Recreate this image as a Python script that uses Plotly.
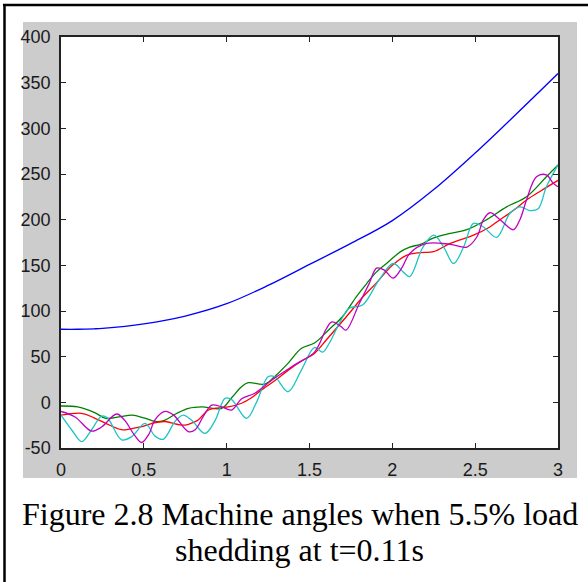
import plotly.graph_objects as go

# ---- data ----
t_blue = [0, 0.1, 0.2, 0.25, 0.5, 0.75, 1.0, 1.25, 1.5, 1.75, 2.0, 2.25, 2.5, 2.75, 3.0]
blue = [80, 80, 80.5, 81, 86, 94.5, 108, 128, 151, 174, 199, 233, 273, 316, 360]

t_green = [0, 0.1, 0.2, 0.27, 0.35, 0.43, 0.5, 0.57, 0.62, 0.7, 0.77, 0.85, 0.97, 1.03, 1.09,
           1.13, 1.23, 1.3, 1.37, 1.45, 1.53, 1.62, 1.7, 1.78, 1.845, 1.9, 1.965, 2.05, 2.105,
           2.17, 2.25, 2.35, 2.45, 2.57, 2.69, 2.81, 2.93, 3.0]
green = [-4, -5, -11, -17.5, -16, -14, -17, -21, -20, -12, -6.6, -5, -6.6, 5, 17,
         21.5, 20, 30, 42.7, 59, 65, 80, 94, 115, 130, 142, 152, 165, 170,
         173, 180, 185, 189, 200, 214, 225, 247, 260]

t_red = [0, 0.125, 0.2, 0.27, 0.366, 0.42, 0.487, 0.55, 0.628, 0.7, 0.748, 0.8, 0.83, 0.89,
         0.95, 1.01, 1.09, 1.15, 1.21, 1.3, 1.37, 1.45, 1.53, 1.6, 1.74, 1.82, 1.9, 2.0,
         2.085, 2.17, 2.25, 2.35, 2.49, 2.57, 2.65, 2.73, 2.81, 2.9, 3.0]
red = [-14, -12, -17, -23, -30, -29, -26.7, -23, -21, -24, -25, -22, -19, -8.4,
       -6, -5, -1, 5, 13.5, 25, 35, 45, 53.6, 68, 97.5, 115, 130, 150,
       161, 164, 165, 174, 183, 190, 200, 210, 221.6, 232, 243]

t_cyan = [0, 0.064, 0.125, 0.185, 0.245, 0.28, 0.366, 0.427, 0.507, 0.568, 0.617, 0.688,
          0.738, 0.79, 0.869, 0.93, 0.99, 1.03, 1.12, 1.18, 1.25, 1.29, 1.37, 1.45, 1.53,
          1.58, 1.62, 1.68, 1.74, 1.82, 1.92, 2.005, 2.07, 2.105, 2.185, 2.25, 2.31, 2.37,
          2.43, 2.49, 2.55, 2.63, 2.71, 2.77, 2.83, 2.88, 2.93, 3.0]
cyan = [-14, -30, -43, -30, -15, -17, -41, -37.6, -23, -37, -40.5, -21,
        -14, -20, -34, -20, 4.4, 3, -17.5, 0, 28, 28, 11.6, 35, 60,
        55, 65, 86.5, 103, 106.6, 134, 152, 142, 137.6, 170, 183, 170, 152,
        170, 196, 192, 180.7, 207, 214, 210, 212, 236, 260]

t_magenta = [0, 0.085, 0.185, 0.245, 0.336, 0.386, 0.44, 0.487, 0.53, 0.568, 0.628, 0.68,
             0.768, 0.81, 0.86, 0.91, 0.97, 1.03, 1.09, 1.17, 1.27, 1.41, 1.53, 1.6, 1.635,
             1.69, 1.72, 1.8, 1.86, 1.905, 1.95, 2.005, 2.06, 2.105, 2.207, 2.35, 2.45,
             2.51, 2.55, 2.59, 2.65, 2.73, 2.77, 2.81, 2.87, 2.93, 2.97, 3.0]
magenta = [-10, -16, -31.5, -27, -12.8, -20, -35, -44, -35, -19, -10, -14,
           -32, -30, -15, -3, -5, -8.4, 4, 10, 24, 41, 55, 80, 88,
           83, 79, 108, 130, 147, 145, 136, 148, 163, 174, 173, 170,
           181, 200, 207.6, 200, 189, 200, 221.6, 247, 249, 240, 236]

x_ticks = [0, 0.5, 1, 1.5, 2, 2.5, 3]
x_tick_labels = ["0", "0.5", "1", "1.5", "2", "2.5", "3"]
y_ticks = [-50, 0, 50, 100, 150, 200, 250, 300, 350, 400]
y_tick_labels = ["-50", "0", "50", "100", "150", "200", "250", "300", "350", "400"]

caption_line1 = "Figure 2.8 Machine angles when 5.5% load"
caption_line2 = "shedding at t=0.11s"

series = [
    (t_blue, blue, "#0000FF"),
    (t_green, green, "#008000"),
    (t_red, red, "#FF0000"),
    (t_cyan, cyan, "#1CC4C4"),
    (t_magenta, magenta, "#C000C0"),
]

fig = go.Figure()
for tx, vy, col in series:
    fig.add_trace(go.Scatter(x=tx, y=vy, mode="lines",
                             line=dict(color=col, width=1.3, shape="spline", smoothing=1.0),
                             showlegend=False, hoverinfo="skip"))

W, H = 588, 582
L, R, T, B = 61, 558, 37, 448


def px(x):
    return (x - L) / (R - L)


def py(y):
    return (B - y) / (B - T)


shapes = [
    # gray figure background
    dict(type="rect", xref="paper", yref="paper", x0=px(23), x1=px(577), y0=py(478), y1=py(22),
         fillcolor="#CCCCCC", line=dict(width=0), layer="below"),
    # white axes area
    dict(type="rect", xref="paper", yref="paper", x0=0, x1=1, y0=0, y1=1,
         fillcolor="#FFFFFF", line=dict(width=0), layer="below"),
    # outer black border (left and top)
    dict(type="line", xref="paper", yref="paper", x0=px(4.5), x1=px(4.5), y0=py(4), y1=py(590),
         line=dict(color="black", width=2.5)),
    dict(type="line", xref="paper", yref="paper", x0=px(3), x1=px(600), y0=py(5), y1=py(5),
         line=dict(color="black", width=2.5)),
]

tickfont = dict(family="Liberation Sans, Arial, sans-serif", size=18, color="#1a1a1a")

fig.update_layout(
    width=W, height=H,
    margin=dict(l=L, r=W - R, t=T, b=H - B, pad=0),
    paper_bgcolor="white",
    plot_bgcolor="white",
    shapes=shapes,
    xaxis=dict(range=[0, 3], tickvals=x_ticks, ticktext=x_tick_labels, ticks="inside", ticklen=5,
               tickcolor="#222222", showline=True, linecolor="#222222", linewidth=1.5, mirror="ticks",
               showgrid=False, zeroline=False, tickfont=tickfont, ticklabelstandoff=5),
    yaxis=dict(range=[-50, 400], tickvals=y_ticks, ticktext=y_tick_labels, ticks="inside", ticklen=5,
               tickcolor="#222222", showline=True, linecolor="#222222", linewidth=1.5, mirror="ticks",
               showgrid=False, zeroline=False, tickfont=tickfont, ticklabelstandoff=5),
    annotations=[
        dict(text=caption_line1, xref="paper", yref="paper", x=px(299.5), y=py(514),
             xanchor="center", yanchor="middle", showarrow=False,
             font=dict(family="Liberation Serif, Times New Roman, serif", size=32, color="black")),
        dict(text=caption_line2, xref="paper", yref="paper", x=px(299.5), y=py(550),
             xanchor="center", yanchor="middle", showarrow=False,
             font=dict(family="Liberation Serif, Times New Roman, serif", size=32, color="black")),
    ],
)

fig.write_html("out.html")
